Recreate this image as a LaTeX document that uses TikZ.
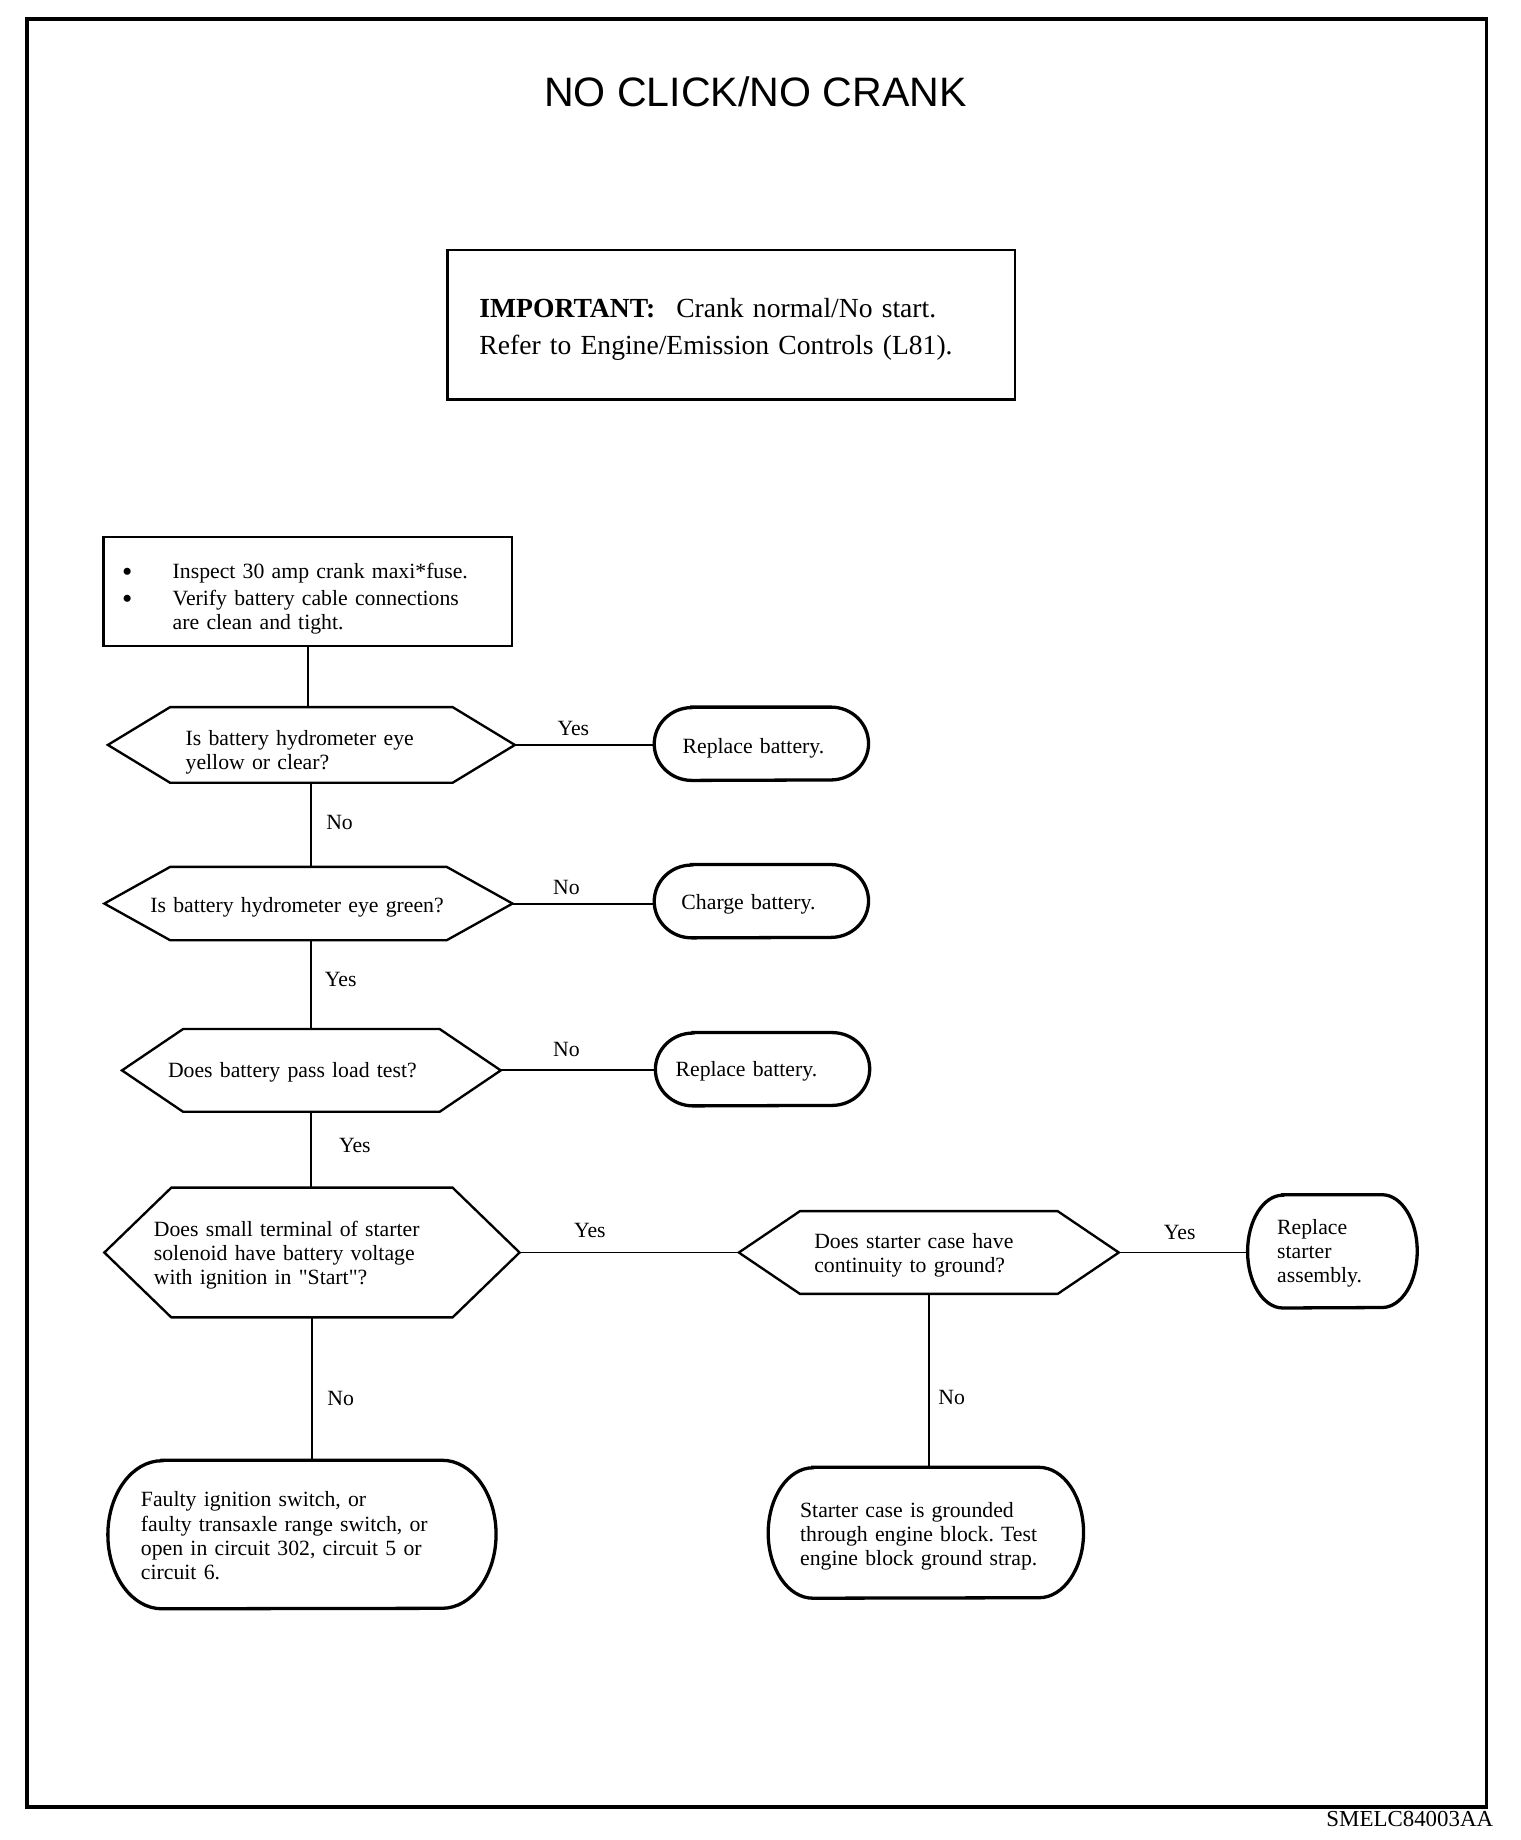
\documentclass[tikz,border=0pt]{standalone}
\usepackage{fontspec}
\setmainfont{Liberation Serif}
\newfontfamily\titlefont{Liberation Sans}
\usetikzlibrary{calc}
\frenchspacing
\tikzset{
  body/.style={font=\fontsize{18.5pt}{20.5pt}\selectfont, inner sep=0pt, align=left},
  hexbox/.style={body, draw=none},
  ovalbox/.style={body, draw=none},
  shapeline/.style={line width=2pt, line join=miter},
  ovalline/.style={line width=2.8pt},
  conn/.style={line width=1.6pt},
  lbl/.style={font=\fontsize{18.5pt}{20.5pt}\selectfont, inner sep=0pt}
}
\newcommand\hexdraw[2]{\draw[shapeline] (#1.west) -- ([xshift=#2pt]#1.north west) -- ([xshift=-#2pt]#1.north east) -- (#1.east) -- ([xshift=-#2pt]#1.south east) -- ([xshift=#2pt]#1.south west) -- cycle;}
\newcommand\ovaldraw[3]{\draw[ovalline] ([xshift=#2pt]#1.north west) -- ([xshift=-#2pt]#1.north east) arc[start angle=90,end angle=-90,x radius=#2pt,y radius=#3pt] -- ([xshift=#2pt]#1.south west) arc[start angle=270,end angle=90,x radius=#2pt,y radius=#3pt] -- cycle;}
\newcommand\bigbul{\makebox[43pt][l]{\raisebox{-2.5pt}[0pt][0pt]{\fontsize{25pt}{20.5pt}\selectfont\textbullet}}}
\begin{document}
\begin{tikzpicture}[x=1pt,y=1pt]
\useasboundingbox (0,0) rectangle (1294,-1566);
\fill[white] (0,0) rectangle (1294,-1566);
% frame
\draw[line width=3pt] (23,-16) rectangle (1265,-1538);
\node (title) at (643,-78) {\titlefont\fontsize{35pt}{40pt}\selectfont NO CLICK/NO CRANK};
\node[anchor=east, inner sep=0pt] (code) at (1271,-1548) {\fontsize{19.5pt}{22pt}\selectfont SMELC84003AA};
% important box
\node[draw, line width=2pt, minimum width=483pt, minimum height=127pt, inner sep=0pt] (imp) at (622.5,-276.5) {};
\node[text width=429pt, align=left, inner sep=0pt, font=\fontsize{23.5pt}{32pt}\selectfont] (imptext) at ([yshift=-4pt]imp.center)
  {\textbf{IMPORTANT:}\hspace{10pt} Crank normal/No start.\\Refer to Engine/Emission Controls (L81).};
% inspect box
\node[draw, line width=2pt, minimum width=348pt, minimum height=93pt, inner sep=0pt] (insp) at (262,-503.5) {};
\node[body, text width=316pt] (insptext) at ([yshift=-6pt]insp.center)
  {\bigbul Inspect 30 amp crank maxi*fuse.\\[3pt]
   \bigbul Verify battery cable connections\\
   \hspace*{43pt}are clean and tight.};
% hexagons
\node[hexbox, minimum width=346pt, minimum height=64pt] (hex1) at (265,-634) {};
\hexdraw{hex1}{53}
\node[body, text width=214pt] (hex1t) at ([yshift=-6pt]hex1.center) {Is battery hydrometer eye\\yellow or clear?};
\node[hexbox, minimum width=347pt, minimum height=62pt] (hex2) at (262.5,-769) {};
\hexdraw{hex2}{56}
\node[body, text width=269pt] (hex2t) at ([yshift=-3pt]hex2.center) {Is battery hydrometer eye green?};
\node[hexbox, minimum width=322pt, minimum height=70pt] (hex3) at (265,-911) {};
\hexdraw{hex3}{52}
\node[body, text width=244pt] (hex3t) at ([yshift=-2pt]hex3.center) {Does battery pass load test?};
\node[hexbox, minimum width=353pt, minimum height=110pt] (hex4) at (265.5,-1066) {};
\hexdraw{hex4}{57}
\node[body, text width=269pt] (hex4t) at ([yshift=-2pt]hex4.center) {Does small terminal of starter\\solenoid have battery voltage\\with ignition in \textquotedbl Start\textquotedbl ?};
\node[hexbox, minimum width=323pt, minimum height=70pt] (hex5) at (790.5,-1066) {};
\hexdraw{hex5}{52}
\node[body, text width=195pt] (hex5t) at ([yshift=-2pt]hex5.center) {Does starter case have\\continuity to ground?};
% ovals
\node[ovalbox, minimum width=182pt, minimum height=62pt] (ov1) at (648,-633) {};
\ovaldraw{ov1}{32}{31}
\node[body, text width=134pt] (ov1t) at ([yshift=-4pt]ov1.center) {Replace battery.};
\node[ovalbox, minimum width=182pt, minimum height=62pt] (ov2) at (648,-767) {};
\ovaldraw{ov2}{32}{31}
\node[body, text width=136pt] (ov2t) at ([yshift=-3pt]ov2.center) {Charge battery.};
\node[ovalbox, minimum width=182pt, minimum height=62pt] (ov3) at (649,-910) {};
\ovaldraw{ov3}{32}{31}
\node[body, text width=148pt] (ov3t) at ([yshift=-2pt]ov3.center) {Replace battery.};
\node[ovalbox, minimum width=144pt, minimum height=96pt] (ov5) at (1134,-1065) {};
\ovaldraw{ov5}{30}{48}
\node[body, text width=94pt] (ov5t) at ([yshift=-2pt]ov5.center) {Replace\\starter\\assembly.};
\node[ovalbox, minimum width=330pt, minimum height=126pt] (ov6) at (257,-1306) {};
\ovaldraw{ov6}{46}{63}
\node[body, text width=274pt] (ov6t) at ([yshift=-1pt]ov6.center) {Faulty ignition switch, or\\faulty transaxle range switch, or\\open in circuit 302, circuit 5 or\\circuit 6.};
\node[ovalbox, minimum width=268pt, minimum height=111pt] (ov7) at (788,-1304.5) {};
\ovaldraw{ov7}{38}{55.5}
\node[body, text width=214pt] (ov7t) at ([yshift=-3pt]ov7.center) {Starter case is grounded\\through engine block. Test\\engine block ground strap.};
% connectors
\draw[conn] (insp.south) -- (insp.south |- hex1.north);
\draw[conn] (hex1.east) -- (hex1.east -| ov1.west);
\draw[conn] (hex1.south) -- (hex1.south |- hex2.north);
\draw[conn] (hex2.east) -- (hex2.east -| ov2.west);
\draw[conn] (hex2.south) -- (hex2.south -| hex3.north) -- (hex3.north);
\draw[conn] (hex3.east) -- (hex3.east -| ov3.west);
\draw[conn] (hex3.south) -- (hex3.south |- hex4.north);
\draw[conn] (hex4.east) -- (hex5.west);
\draw[conn] (hex5.east) -- (hex5.east -| ov5.west);
\draw[conn] (hex4.south) -- (hex4.south |- ov6.north);
\draw[conn] (hex5.south) -- (hex5.south |- ov7.north);
% labels
\node[lbl] (y1) at (488,-620) {Yes};
\node[lbl] (n1) at (289,-700) {No};
\node[lbl] (n2) at (482,-755) {No};
\node[lbl] (y2) at (290,-834) {Yes};
\node[lbl] (n3) at (482,-893) {No};
\node[lbl] (y3) at (302,-975) {Yes};
\node[lbl] (y4) at (502,-1047) {Yes};
\node[lbl] (y5) at (1004,-1049) {Yes};
\node[lbl] (n4) at (290,-1190) {No};
\node[lbl] (n5) at (810,-1189) {No};
\end{tikzpicture}
\end{document}
